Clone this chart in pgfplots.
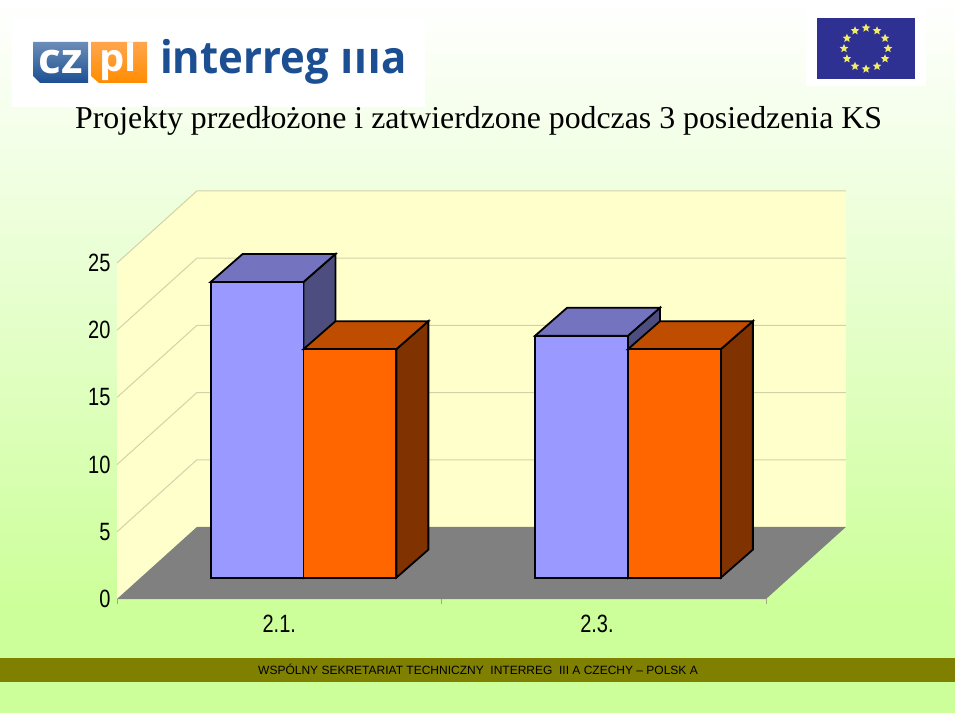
\documentclass[border=0pt]{standalone}
\usepackage{fontspec}
\usepackage{pgfplots}
\pgfplotsset{compat=1.18}
\usetikzlibrary{shapes.geometric}
\setmainfont{Liberation Sans}
\newfontfamily\titlefont{Liberation Serif}
\newfontfamily\tickfont[FakeStretch=0.80]{Liberation Sans}
\newfontfamily\logofont[FakeStretch=0.93]{Open Sans}
\newfontfamily\logofontb[FakeStretch=1.05]{Open Sans}
\definecolor{bgbot}{HTML}{CCFF99}
\definecolor{wall}{HTML}{FFFFCC}
\definecolor{gridc}{HTML}{D2D2A8}
\definecolor{floorc}{HTML}{808080}
\definecolor{bluef}{HTML}{9999FF}
\definecolor{bluet}{HTML}{7373BF}
\definecolor{blues}{HTML}{4D4D80}
\definecolor{orangef}{HTML}{FF6600}
\definecolor{oranget}{HTML}{BF4D00}
\definecolor{oranges}{HTML}{803300}
\definecolor{band}{HTML}{808000}
\definecolor{logoblue}{HTML}{1C4F92}
\definecolor{euflag}{HTML}{2E3192}
\definecolor{eustar}{HTML}{F2EC6A}
\begin{document}
\begin{tikzpicture}
\path[use as bounding box] (0,0) rectangle (960pt,717pt);
\begin{scope}[x=1pt,y=-1pt,yshift=717pt]
  % page background
  \fill[white] (0,0) rectangle (960,717);
  \shade[top color=white,bottom color=bgbot] (0,0) rectangle (955,610);
  \fill[bgbot] (0,609.5) rectangle (955,713);
  % logo
  \fill[white] (12,18) rectangle (425,107);
  \shade[top color=logoblue!65,bottom color=logoblue] (33,42) -- (88,42) -- (88,83) -- (40,83) -- (33,76) -- cycle;
  \shade[top color=orange!70!white,bottom color=orange!90!yellow] (91,42) -- (147,42) -- (147,83) -- (99,83) -- (91,76) -- cycle;
  \node[white,font=\logofontb\bfseries\fontsize{42}{42}\selectfont,anchor=base,inner sep=0pt] at (61,74) {cz};
  \node[white,font=\logofontb\bfseries\fontsize{38}{38}\selectfont,anchor=base,inner sep=0pt] at (118,72) {pl};
  \node[logoblue,font=\logofont\bfseries\fontsize{45}{45}\selectfont,anchor=base west,inner sep=0pt] at (160,74) {interreg \scalebox{1}[0.75]{III}a};
  % flag
  \fill[white] (806,8) rectangle (926,86);
  \fill[euflag] (817,18) rectangle (915,79);
  \foreach \a in {0,30,...,330}
    \node[star,star points=5,star point ratio=2.2,fill=eustar,inner sep=0pt,minimum size=9pt]
      at ({866+22*cos(\a)},{48.5+20.5*sin(\a)}) {};
  % title
  \node[font=\titlefont\fontsize{31.82}{32}\selectfont,anchor=base west,inner sep=0pt] at (75,129) {Projekty przedłożone i zatwierdzone podczas 3 posiedzenia KS};
  % footer
  \fill[band] (0,658) rectangle (955,682);
  \node[font=\fontsize{12}{13}\selectfont,anchor=base west,inner sep=0pt,text=black] at (258,674.5) {WSPÓLNY SEKRETARIAT TECHNICZNY\ \ INTERREG\ \ III A CZECHY – POLSK A};
\end{scope}
\begin{axis}[
  at={(117pt,118pt)},anchor=south west,
  scale only axis,width=649pt,height=336pt,
  xmin=0,xmax=2,ymin=0,ymax=25,clip=false,
  axis line style={draw=none},
  xtick={0.5,1.479},xticklabels={2.1.,2.3.},
  minor xtick={0,1,2},
  ytick={0,5,10,15,20,25},
  xtick pos=lower,ytick pos=left,tick align=outside,
  major tick length=0pt,minor tick length=5pt,
  minor tick style={gridc!80!black,line width=0.7pt},
  /pgf/number format/assume math mode=true,
  tick label style={font=\tickfont\fontsize{25}{25}\selectfont,text=black},
  xticklabel style={yshift=-13pt},
  yticklabel style={xshift=-3pt},
  face/.style={draw=black,line width=1.8pt,line join=miter,mark=none,fill=#1,xshift=24.3pt,yshift=21.4pt},
  plain/.style={draw=none,mark=none,fill=#1},
  gl/.style={gridc,line width=1pt,mark=none},
]
% walls and floor
\addplot[plain=wall] coordinates {(0,0)(0.2462,5.36)(0.2462,30.36)(0,25)} -- cycle;
\addplot[plain=wall] coordinates {(0.2462,5.36)(2.2462,5.36)(2.2462,30.36)(0.2462,30.36)} -- cycle;
\addplot[gl] coordinates {(0,5)(0.2462,10.36)(2.2462,10.36)};
\addplot[gl] coordinates {(0,10)(0.2462,15.36)(2.2462,15.36)};
\addplot[gl] coordinates {(0,15)(0.2462,20.36)(2.2462,20.36)};
\addplot[gl] coordinates {(0,20)(0.2462,25.36)(2.2462,25.36)};
\addplot[gl] coordinates {(0,25)(0.2462,30.36)(2.2462,30.36)};
\addplot[plain=floorc] coordinates {(0,0)(2,0)(2.2462,5.36)(0.2462,5.36)} -- cycle;
% first series
\addplot[face=blues] coordinates {(0.5,0)(0.5985,2.08)(0.5985,24.08)(0.5,22)} -- cycle;
\addplot[face=bluet] coordinates {(0.2138,22)(0.5,22)(0.5985,24.08)(0.3123,24.08)} -- cycle;
\addplot[face=blues] coordinates {(1.5,0)(1.5985,2.08)(1.5985,20.08)(1.5,18)} -- cycle;
\addplot[face=bluet] coordinates {(1.2138,18)(1.5,18)(1.5985,20.08)(1.3123,20.08)} -- cycle;
\addplot[ybar,bar width=92.8pt,bar shift=-46.4pt,face=bluef] coordinates {(0.5,22)(1.5,18)};
% second series
\addplot[face=oranges] coordinates {(0.7862,0)(0.8846,2.08)(0.8846,19.08)(0.7862,17)} -- cycle;
\addplot[face=oranget] coordinates {(0.5,17)(0.7862,17)(0.8846,19.08)(0.5985,19.08)} -- cycle;
\addplot[face=oranges] coordinates {(1.7862,0)(1.8846,2.08)(1.8846,19.08)(1.7862,17)} -- cycle;
\addplot[face=oranget] coordinates {(1.5,17)(1.7862,17)(1.8846,19.08)(1.5985,19.08)} -- cycle;
\addplot[ybar,bar width=92.8pt,bar shift=46.4pt,face=orangef] coordinates {(0.5,17)(1.5,17)};
\end{axis}
\end{tikzpicture}
\end{document}
